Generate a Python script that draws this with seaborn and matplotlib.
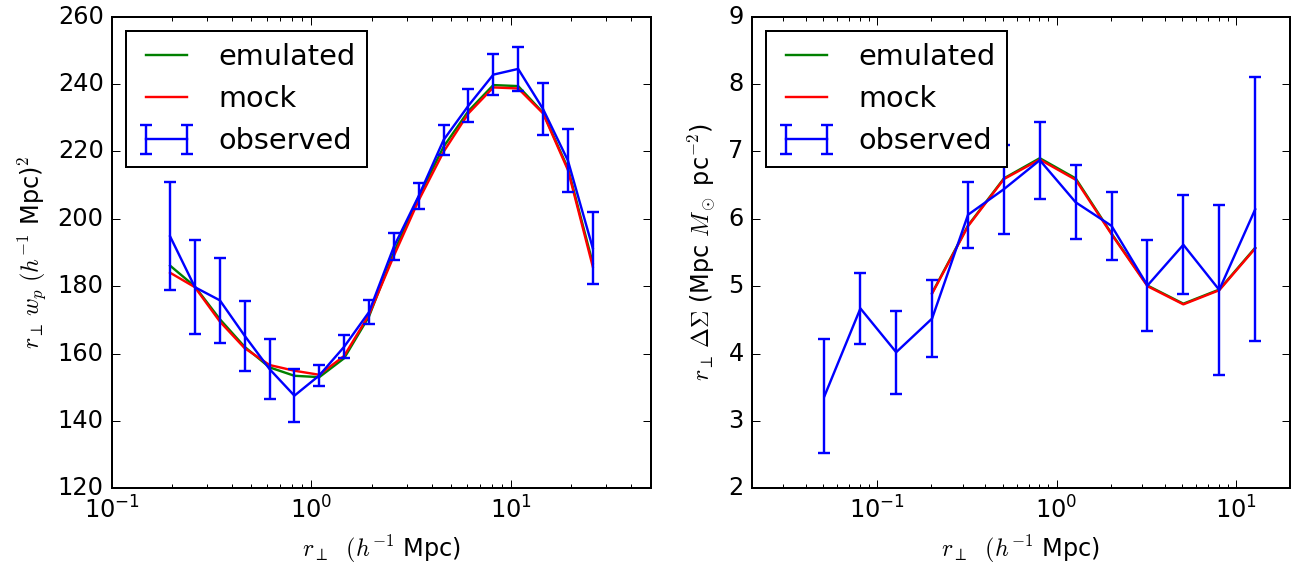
import numpy as np
import pandas as pd
import matplotlib
matplotlib.use("Agg")
import matplotlib.pyplot as plt
import seaborn as sns

plt.style.use("classic")

# ---- left panel: projected correlation function ----
rp_wp = [0.196, 0.261, 0.348, 0.463, 0.617, 0.822, 1.095, 1.458, 1.942,
         2.587, 3.446, 4.590, 6.114, 8.144, 10.85, 14.45, 19.25, 25.64]
wp_obs = [194.8, 179.7, 175.8, 165.3, 155.4, 147.5, 153.5, 162.0, 172.3,
          191.7, 206.8, 223.4, 233.6, 242.8, 244.5, 232.6, 217.3, 191.3]
wp_err = [16.0, 14.0, 12.7, 10.4, 9.0, 7.8, 3.0, 3.4, 3.6,
          4.0, 3.9, 4.4, 5.0, 6.0, 6.5, 7.8, 9.3, 10.6]
wp_emu = [186.1, 179.9, 170.2, 162.0, 155.9, 153.4, 153.0, 158.6, 171.0,
          190.0, 206.5, 221.4, 232.0, 239.7, 239.4, 231.5, 215.0, 186.8]
wp_mock = [184.0, 179.7, 169.5, 161.6, 156.6, 154.9, 153.7, 159.3, 171.5,
           189.0, 205.5, 219.9, 231.3, 239.0, 238.7, 231.3, 214.5, 185.8]

# ---- right panel: lensing ----
rp_ds = [0.0509, 0.0807, 0.1277, 0.2025, 0.3210, 0.5088, 0.8065,
         1.278, 2.026, 3.211, 5.090, 8.067, 12.79]
ds_obs = [3.37, 4.67, 4.02, 4.52, 6.06, 6.44, 6.87, 6.245, 5.895,
          5.01, 5.615, 4.945, 6.14]
ds_err = [0.84, 0.53, 0.615, 0.57, 0.49, 0.66, 0.57, 0.55, 0.505,
          0.68, 0.735, 1.265, 1.96]
rp_ds_model = [0.2025, 0.3210, 0.5088, 0.8065, 1.278, 2.026, 3.211,
               5.090, 8.067, 12.79]
ds_emu = [4.90, 5.90, 6.60, 6.90, 6.60, 5.78, 5.01, 4.74, 4.95, 5.57]
ds_mock = [4.89, 5.89, 6.59, 6.88, 6.58, 5.77, 5.00, 4.73, 4.94, 5.56]

W, H = 1298, 570
dpi = 144
fig = plt.figure(figsize=(W / dpi, H / dpi), dpi=dpi, facecolor="white")

bottom = (H - 488.3) / H
height = (488.3 - 16.7) / H
ax1 = fig.add_axes([111.7 / W, bottom, (650.7 - 111.7) / W, height])
ax2 = fig.add_axes([751.7 / W, bottom, (1290.0 - 751.7) / W, height])

LW = 1.2

def panel(ax, x_obs, y_obs, y_err, x_mod, y_emu, y_mock):
    sns.lineplot(x=x_mod, y=y_emu, ax=ax, color=(0, 0.5, 0), lw=LW,
                 label="emulated", sort=False, estimator=None)
    sns.lineplot(x=x_mod, y=y_mock, ax=ax, color=(1, 0, 0), lw=LW,
                 label="mock", sort=False, estimator=None)
    ax.errorbar(x_obs, y_obs, yerr=y_err, color=(0, 0, 1), lw=LW,
                elinewidth=LW, capsize=3, capthick=LW, label="observed")
    ax.set_xscale("log")
    ax.legend(loc="upper left", fontsize=14.4, frameon=True, fancybox=False,
              numpoints=2)
    ax.tick_params(which="both", direction="in", top=True, right=True)

panel(ax1, rp_wp, wp_obs, wp_err, rp_wp, wp_emu, wp_mock)
ax1.set_xlim(0.1, 50)
ax1.set_ylim(120, 260)
ax1.set_yticks(np.arange(120, 261, 20))
ax1.set_xlabel(r"$r_\perp\ \ (h^{-1}$ Mpc)", fontsize=12)
ax1.set_ylabel(r"$r_\perp\, w_p\ (h^{-1}$ Mpc)$^2$", fontsize=12)

panel(ax2, rp_ds, ds_obs, ds_err, rp_ds_model, ds_emu, ds_mock)
ax2.set_xlim(0.02, 20)
ax2.set_ylim(2, 9)
ax2.set_yticks(np.arange(2, 10, 1))
ax2.set_xlabel(r"$r_\perp\ \ (h^{-1}$ Mpc)", fontsize=12)
ax2.set_ylabel(r"$r_\perp\, \Delta\Sigma$ (Mpc $M_\odot$ pc$^{-2}$)", fontsize=12)

fig.savefig("out.png", dpi=dpi, facecolor="white")
